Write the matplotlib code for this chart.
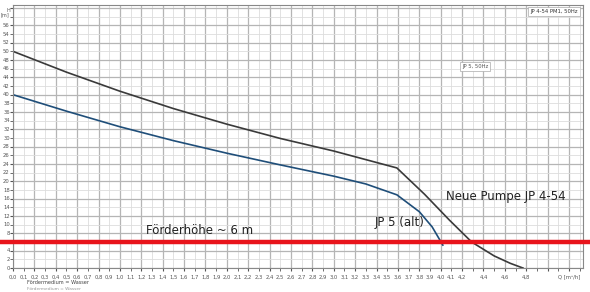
import numpy as np
import matplotlib
matplotlib.use("Agg")
import matplotlib.pyplot as plt
from matplotlib.ticker import MultipleLocator

# Kennlinien (Q in m3/h, H in m)
q_neu = [0.0, 0.5, 1.0, 1.5, 2.0, 2.5, 3.0, 3.59, 3.85, 4.08, 4.29, 4.5, 4.65, 4.77]
h_neu = [50.0, 45.2, 40.8, 36.8, 33.2, 29.9, 27.0, 23.1, 17.0, 11.1, 6.0, 2.8, 1.1, 0.0]

q_alt = [0.0, 0.5, 1.0, 1.5, 2.0, 2.5, 3.0, 3.3, 3.59, 3.8, 3.92, 4.02]
h_alt = [40.0, 36.2, 32.6, 29.4, 26.5, 23.8, 21.2, 19.4, 16.9, 13.0, 9.5, 5.3]

h_soll = 6.0

plt.rc('font', family='DejaVu Sans')
fig = plt.figure(figsize=(5.9, 2.92), dpi=100)
ax = fig.add_axes([0.022, 0.082, 0.966, 0.901])

ax.set_xlim(0, 5.33)
ax.set_ylim(0, 60.7)

# Raster
ax.xaxis.set_major_locator(MultipleLocator(0.2))
ax.xaxis.set_minor_locator(MultipleLocator(0.1))
ax.yaxis.set_major_locator(MultipleLocator(4))
ax.yaxis.set_minor_locator(MultipleLocator(2))
ax.grid(True, which='major', color='#b5b5b5', lw=0.9)
ax.grid(True, which='minor', color='#dddddd', lw=0.6)
ax.set_axisbelow(True)
ax.tick_params(which='both', length=2, labelsize=4, pad=1, colors='#555555')
ax.set_xticklabels([])
ax.set_yticklabels([])
for s in ax.spines.values():
    s.set_color('#888888')
    s.set_linewidth(0.8)

# Achsbeschriftungen (klein, wie im Datenblatt)
for i in range(0, 43):
    q = i / 10
    ax.text(q, -1.5, f"{q:.1f}".replace('.', ','), fontsize=3.8, color='#555555',
            ha='center', va='top', clip_on=False)
for q in [4.4, 4.6, 4.8]:
    ax.text(q, -1.5, f"{q:.1f}".replace('.', ','), fontsize=3.8, color='#555555',
            ha='center', va='top', clip_on=False)
ax.text(5.2, -1.5, "Q [m³/h]", fontsize=3.8, color='#555555', ha='center', va='top', clip_on=False)
for h in range(0, 58, 2):
    ax.text(-0.03, h, str(h), fontsize=3.8, color='#555555', ha='right', va='center', clip_on=False)
ax.text(-0.03, 59, "H\n[m]", fontsize=3.6, color='#555555', ha='right', va='center',
        linespacing=0.9, clip_on=False)
fig.text(0.045, 0.028, "Fördermedium = Wasser", fontsize=3.6, color='#444444', ha='left')
fig.text(0.045, 0.008, "Fördermedium = Wasser", fontsize=3.2, color='#999999', ha='left')

# Kurven
ax.plot(q_neu, h_neu, color='#3a3a3a', lw=1.2)
ax.plot(q_alt, h_alt, color='#1f4e79', lw=1.2)

# Förderhöhe
ax.axhline(h_soll, xmin=-0.03, xmax=1.03, color='#e8141b', lw=3.2, clip_on=False, zorder=5)

ax.text(4.05, 16.4, "Neue Pumpe JP 4-54", fontsize=8.5, color='#222222', va='center')
ax.text(3.38, 10.5, "JP 5 (alt)", fontsize=8.5, color='#222222', va='center')
ax.text(1.24, 8.6, "Förderhöhe ~ 6 m", fontsize=8.5, color='#222222', va='center')

ax.text(4.2, 46.5, "JP 5, 50Hz", fontsize=3.8, color='#555555', va='center',
        bbox=dict(boxstyle='square,pad=0.4', fc='white', ec='#aaaaaa', lw=0.5))
ax.text(5.28, 59.2, "JP 4-54 PM1, 50Hz", fontsize=3.8, color='#333333', ha='right', va='center',
        bbox=dict(boxstyle='square,pad=0.4', fc='white', ec='#aaaaaa', lw=0.5))

fig.savefig("out.png", dpi=100)
